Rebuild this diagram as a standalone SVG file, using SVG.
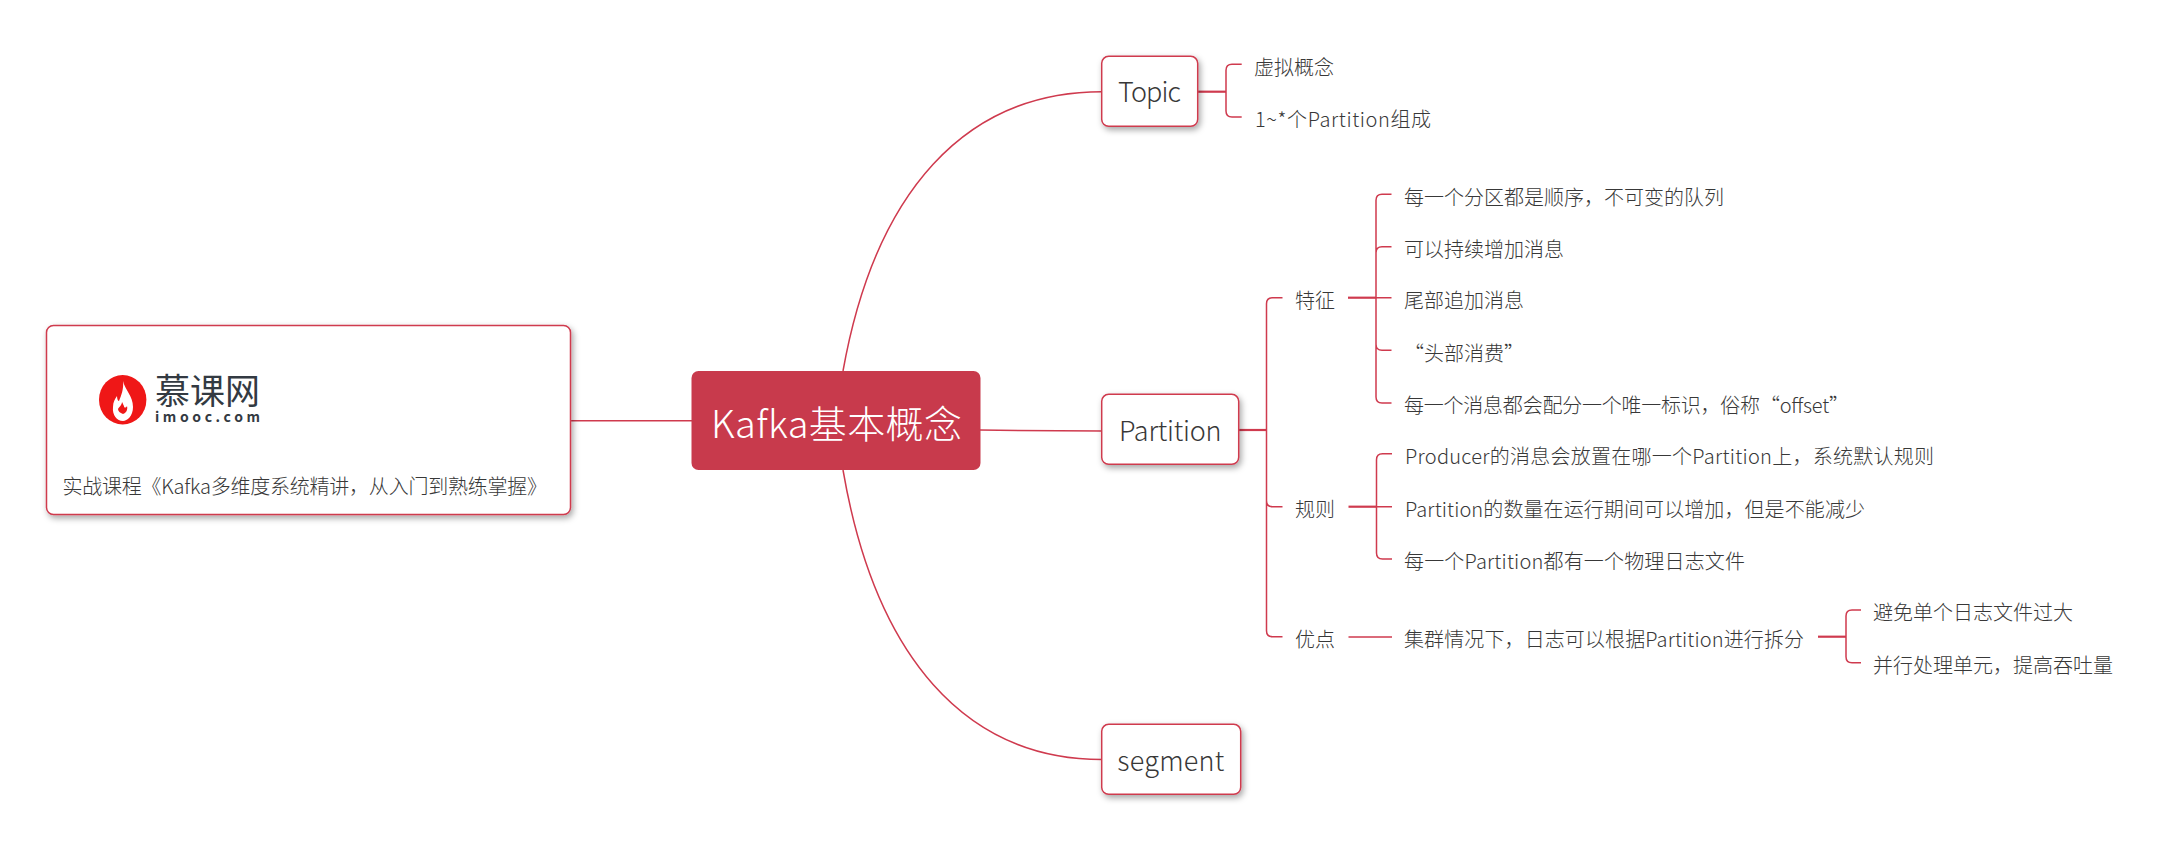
<svg xmlns="http://www.w3.org/2000/svg" width="2184" height="844" viewBox="0 0 2184 844">
<style>
text{font-family:"Noto Sans CJK SC","Noto Sans",sans-serif;fill:#383838;font-size:20px;font-weight:300}
.big{font-size:27px}
.c{fill:none;stroke:#CF3A4E;stroke-width:1.5}
.t{fill:none;stroke:#CF3A4E;stroke-width:2.2}
.n{fill:#fff;stroke:#CF3A4E;stroke-width:1.5;filter:url(#sh)}
</style>
<defs><filter id="sh" x="-20%" y="-20%" width="140%" height="150%"><feDropShadow dx="2" dy="3" stdDeviation="3" flood-color="#000" flood-opacity="0.35"/></filter></defs>
<rect width="2184" height="844" fill="#fff"/>
<g id="connectors">
<path class="c" d="M571 420.7H692"/>
<path class="c" d="M843 371C875 192 965 91.7 1102 91.7"/>
<path class="c" d="M980 430Q1040 431 1102 431"/>
<path class="c" d="M843 470C875 656 965 759.5 1102 759.5"/>
<path class="t" d="M1198 91.7H1226"/>
<path class="c" d="M1241.7 64.3H1232Q1226 64.3 1226 70.3V111Q1226 117 1232 117H1241.7"/>
<path class="t" d="M1239 430H1266.5"/>
<path class="c" d="M1282.5 297.7H1272.5Q1266.5 297.7 1266.5 303.7V630.7Q1266.5 636.7 1272.5 636.7H1282.5M1266.5 500.7Q1266.5 506.7 1272.5 506.7H1282.5"/>
<path class="t" d="M1348 297.7H1376"/>
<path class="c" d="M1376 297.7H1391.5M1391.5 194.3H1382Q1376 194.3 1376 200.3V397Q1376 403 1382 403H1391.5M1391.5 246.7H1382Q1376 246.7 1376 252.7M1391.5 350.3H1382Q1376 350.3 1376 344.3"/>
<path class="t" d="M1348.5 506.7H1376.5"/>
<path class="c" d="M1376.5 506.7H1392M1392 453.7H1382.5Q1376.5 453.7 1376.5 459.7V553Q1376.5 559 1382.5 559H1392"/>
<path class="c" d="M1348.5 637H1392"/>
<path class="t" d="M1818 636.7H1846"/>
<path class="c" d="M1861 610H1852Q1846 610 1846 616V656.7Q1846 662.7 1852 662.7H1861"/>
</g>
<g id="note">
<rect class="n" x="46.5" y="325.5" width="524" height="189" rx="7"/>
<ellipse cx="122.7" cy="399.7" rx="23.7" ry="24.7" fill="#EF1717"/>
<path d="M123 381C125 390 133 396 133 407C133 416 127 421 123 421C117 421 112 415 113 407C113 402 115 399 117 396C117 399 118 401 119 401C121 396 124 389 123 381Z" fill="#fff"/>
<path d="M122 402C122 405 119 407 118 409C118 411 120 413 123 414C126 413 128 410 127 406C126 408 124 408 124 406C123 405 123 403 122 402Z" fill="#EF1717"/>
<text x="155" y="404" style="font-size:35px;fill:#333A42;font-weight:400">慕课网</text>
<text x="155" y="421.5" textLength="105" style="font-size:14px;fill:#333A42;font-weight:700">imooc.com</text>
<text x="62.5" y="494" textLength="484.5">实战课程《Kafka多维度系统精讲，从入门到熟练掌握》</text>
</g>
<g id="central">
<rect x="691.5" y="371" width="289" height="99" rx="7" fill="#C83A4C"/>
<text x="711" y="437.5" textLength="251" style="font-size:38px;fill:#fff">Kafka基本概念</text>
</g>
<g id="topic"><rect class="n" x="1101.7" y="56.3" width="96" height="70" rx="7"/><text class="big" x="1118" y="102" textLength="63">Topic</text></g>
<g id="partition"><rect class="n" x="1101.7" y="394.3" width="137" height="70" rx="7"/><text class="big" x="1119" y="440.5" textLength="102.5">Partition</text></g>
<g id="segment"><rect class="n" x="1101.7" y="724.3" width="139" height="70" rx="7"/><text class="big" x="1117.3" y="770.5" textLength="107">segment</text></g>
<g id="t1"><text x="1254" y="74.5">虚拟概念</text></g>
<g id="t2"><text x="1255" y="127" textLength="176">1~*个Partition组成</text></g>
<g id="f"><text x="1295" y="307.7">特征</text></g>
<g id="f1"><text x="1404" y="204.5">每一个分区都是顺序，不可变的队列</text></g>
<g id="f2"><text x="1404" y="256.7">可以持续增加消息</text></g>
<g id="f3"><text x="1404" y="308">尾部追加消息</text></g>
<g id="f4"><text x="1404" y="361">“头部消费”</text></g>
<g id="f5"><text x="1404" y="413" textLength="445">每一个消息都会配分一个唯一标识，俗称“offset”</text></g>
<g id="r"><text x="1295" y="516.7">规则</text></g>
<g id="r1"><text x="1405" y="463.7" textLength="529">Producer的消息会放置在哪一个Partition上，系统默认规则</text></g>
<g id="r2"><text x="1405" y="516.7" textLength="460">Partition的数量在运行期间可以增加，但是不能减少</text></g>
<g id="r3"><text x="1404" y="569" textLength="341">每一个Partition都有一个物理日志文件</text></g>
<g id="a"><text x="1295" y="647">优点</text></g>
<g id="a1"><text x="1404" y="647" textLength="400">集群情况下，日志可以根据Partition进行拆分</text></g>
<g id="a2"><text x="1873" y="620">避免单个日志文件过大</text></g>
<g id="a3"><text x="1873" y="672.7">并行处理单元，提高吞吐量</text></g>
</svg>
